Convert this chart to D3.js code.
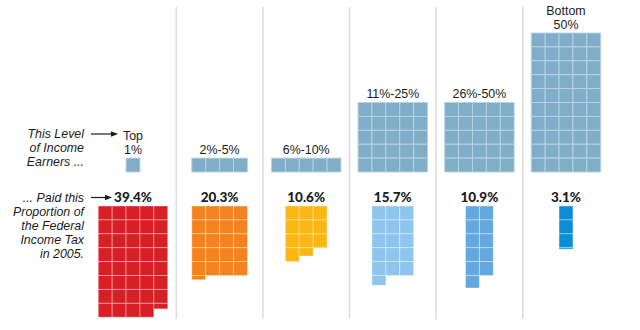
<!DOCTYPE html>
<html>
<head>
<meta charset="utf-8">
<script src="https://cdn.jsdelivr.net/npm/d3@7"></script>
<style>
  html, body { margin: 0; padding: 0; background: #fff; }
  svg { display: block; }
  text { font-family: "Liberation Sans", Arial, sans-serif; fill: #1b1b1b; }
  text.value { font-family: "Lato", "Open Sans", sans-serif; }
</style>
</head>
<body>
<svg id="chart" width="640" height="330"></svg>
<script>
// Income groups, top earners first
const groups = ["Top 1%", "2%-5%", "6%-10%", "11%-25%", "26%-50%", "Bottom 50%"];
const groupLabels = [["Top", "1%"], ["2%-5%"], ["6%-10%"], ["11%-25%"], ["26%-50%"], ["Bottom", "50%"]];
// squares in the "income earners" block of each group
const earnerSquares = [1, 4, 5, 25, 25, 50];
// share of federal income tax paid, 2005 (percent, one square per point)
const taxShare = [39.4, 20.3, 10.6, 15.7, 10.9, 3.1];
const taxLabels = ["39.4%", "20.3%", "10.6%", "15.7%", "10.9%", "3.1%"];

// grid widths (columns) for each block
const earnerCols = [1, 4, 5, 5, 5, 5];
const taxCols = [5, 4, 3, 3, 2, 1];
const taxColors = ["#d91f26", "#f4821f", "#fdb715", "#8ec5ee", "#63a8df", "#0b8dd7"];
const earnerColor = "#80aec9";

const svg = d3.select("#chart");
const cell = 13.9;
const lineH = 14;
const labelSize = 12.4;

const x = d3.scalePoint().domain(groups).range([133, 566]);
// rows of squares -> pixels
const yEarn = d3.scaleLinear().domain([0, 1]).range([172, 172 - cell]); // grows upward
const yTax = d3.scaleLinear().domain([0, 1]).range([206, 206 + cell]);   // grows downward

// column separators
const sepX = groups.slice(1).map((g, i) => (x(groups[i]) + x(g)) / 2);
svg.append("g").selectAll("line").data(sepX).join("line")
  .attr("x1", d => d).attr("x2", d => d)
  .attr("y1", 7).attr("y2", 319)
  .attr("stroke", "#dcdcdc").attr("stroke-width", 1.5);

// cells of the earner blocks: filled from the bottom row up
function earnerCells(gi) {
  const n = earnerSquares[gi], cols = earnerCols[gi];
  const rows = Math.ceil(n / cols);
  const left = x(groups[gi]) - cols * cell / 2;
  return d3.range(n).map(k => {
    const r = Math.floor(k / cols), c = k % cols;
    return { x: left + c * cell, y: yEarn(rows - r), w: cell, h: cell };
  });
}

// cells of the tax blocks: filled row by row from the top, last square partial
function taxCells(gi) {
  const v = taxShare[gi], cols = taxCols[gi];
  const left = x(groups[gi]) - cols * cell / 2;
  const whole = Math.floor(v + 1e-9);
  const frac = v - whole;
  const out = d3.range(whole).map(k => {
    const r = Math.floor(k / cols), c = k % cols;
    return { x: left + c * cell, y: yTax(r), w: cell, h: cell };
  });
  if (frac > 0.01) {
    const r = Math.floor(whole / cols), c = whole % cols;
    out.push({ x: left + c * cell, y: yTax(r), w: cell, h: yTax(r + frac) - yTax(r) });
  }
  return out;
}

// multi-line text as one <text> with stacked tspans
function multiline(parent, lines, xPos, yFirst, anchor) {
  const t = parent.append("text").attr("text-anchor", anchor);
  t.selectAll("tspan").data(lines).join("tspan")
    .attr("x", xPos)
    .attr("y", (d, i) => yFirst + i * lineH)
    .text(d => d);
  return t;
}

const col = svg.append("g").selectAll("g").data(groups).join("g");

col.each(function (g, gi) {
  const sel = d3.select(this);
  const cx = x(g);

  // earners block
  const ec = earnerCells(gi);
  sel.append("g").selectAll("rect").data(ec).join("rect")
    .attr("x", d => d.x).attr("y", d => d.y)
    .attr("width", d => d.w).attr("height", d => d.h)
    .attr("fill", earnerColor)
    .attr("stroke", "#b9d3e3").attr("stroke-width", 0.9);

  const top = d3.min(ec, d => d.y);
  const lines = groupLabels[gi];
  multiline(sel, lines, cx, top - 4.5 - (lines.length - 1) * lineH, "middle")
    .attr("font-size", labelSize);

  // tax block
  const tc = taxCells(gi);
  sel.append("g").selectAll("rect").data(tc).join("rect")
    .attr("x", d => d.x).attr("y", d => d.y)
    .attr("width", d => d.w).attr("height", d => d.h)
    .attr("fill", taxColors[gi])
    .attr("stroke", "rgba(255,255,255,0.4)").attr("stroke-width", 0.9);

  sel.append("text").attr("class", "value")
    .attr("x", cx).attr("y", yTax(0) - 4)
    .attr("text-anchor", "middle")
    .attr("font-size", 13.5).attr("font-weight", 900)
    .text(taxLabels[gi]);
});

// explanatory notes on the left
const note1 = ["This Level", "of Income", "Earners ..."];
const note2 = ["... Paid this", "Proportion of", "the Federal", "Income Tax", "in 2005."];
multiline(svg, note1, 84, 137.5, "end")
  .attr("font-size", labelSize).attr("font-style", "italic");
multiline(svg, note2, 84, 201.5, "end")
  .attr("font-size", labelSize).attr("font-style", "italic");

function arrow(x0, x1, y) {
  const g = svg.append("g");
  g.append("line").attr("x1", x0).attr("x2", x1 - 6).attr("y1", y).attr("y2", y)
    .attr("stroke", "#1b1b1b").attr("stroke-width", 1.2);
  g.append("path")
    .attr("d", `M${x1},${y} L${x1 - 7},${y - 2.8} L${x1 - 7},${y + 2.8} Z`)
    .attr("fill", "#1b1b1b");
}
arrow(91, 118, 134);
arrow(91, 112, 197.5);
</script>
</body>
</html>
